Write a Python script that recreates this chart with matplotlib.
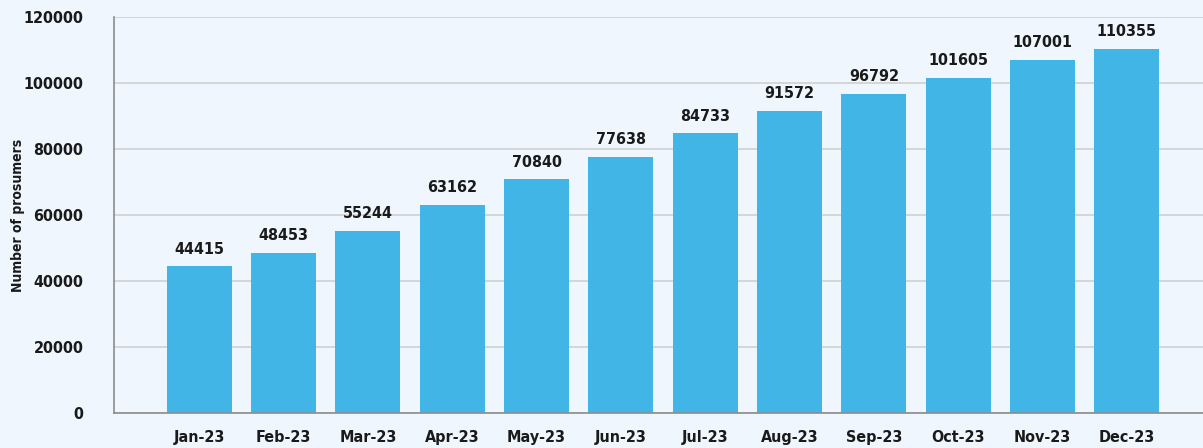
import matplotlib
matplotlib.use("Agg")
import matplotlib.pyplot as plt

# datos del grafico
meses = ["Jan-23", "Feb-23", "Mar-23", "Apr-23", "May-23", "Jun-23",
         "Jul-23", "Aug-23", "Sep-23", "Oct-23", "Nov-23", "Dec-23"]
prosumidores = [44415, 48453, 55244, 63162, 70840, 77638,
                84733, 91572, 96792, 101605, 107001, 110355]
yticks = [0, 20000, 40000, 60000, 80000, 100000, 120000]

plt.rcParams['font.family'] = ["DejaVu Sans"]

fondo = "#eff6fe"
azul = "#41b6e6"
texto = "#1a1a1a"
tf = dict(fontstretch="condensed", fontweight="bold")

fig = plt.figure(figsize=(12.03, 4.48), dpi=100, facecolor=fondo)
ax = fig.add_axes([0.0948, 0.078, 0.905, 0.884])
ax.set_facecolor(fondo)

x = list(range(len(meses)))
ax.bar(x, prosumidores, width=0.77, color=azul, zorder=2)

# etiquetas encima de cada barra
for xi, v in zip(x, prosumidores):
    ax.annotate(str(v), (xi, v), xytext=(0, 7), textcoords="offset points",
                ha="center", va="bottom", fontsize=11.5, color=texto, **tf)

ax.set_xlim(-1.01, 11.9)
ax.set_ylim(0, 120000)
ax.set_yticks(yticks)
ax.set_yticklabels([str(t) for t in yticks])
ax.set_xticks(x)
ax.set_xticklabels(meses)
ax.tick_params(axis="both", length=0, labelsize=11.5, colors=texto)
for lab in ax.get_xticklabels() + ax.get_yticklabels():
    lab.set_fontweight("bold")
    lab.set_fontstretch("condensed")
ax.tick_params(axis="y", pad=22)
ax.tick_params(axis="x", pad=12)

ax.grid(axis="y", color="#d0d0d0", linewidth=1.2, zorder=0)
ax.set_axisbelow(True)
ax.spines["top"].set_visible(False)
ax.spines["right"].set_visible(False)
ax.spines["left"].set_color("#8c8c8c")
ax.spines["bottom"].set_color("#8c8c8c")
ax.spines["left"].set_linewidth(1.2)
ax.spines["bottom"].set_linewidth(1.2)

ax.set_ylabel("Number of prosumers", fontsize=10, color=texto, **tf)
ax.yaxis.set_label_coords(-0.082, 0.5)

fig.savefig("out.png", dpi=100, facecolor=fondo)
